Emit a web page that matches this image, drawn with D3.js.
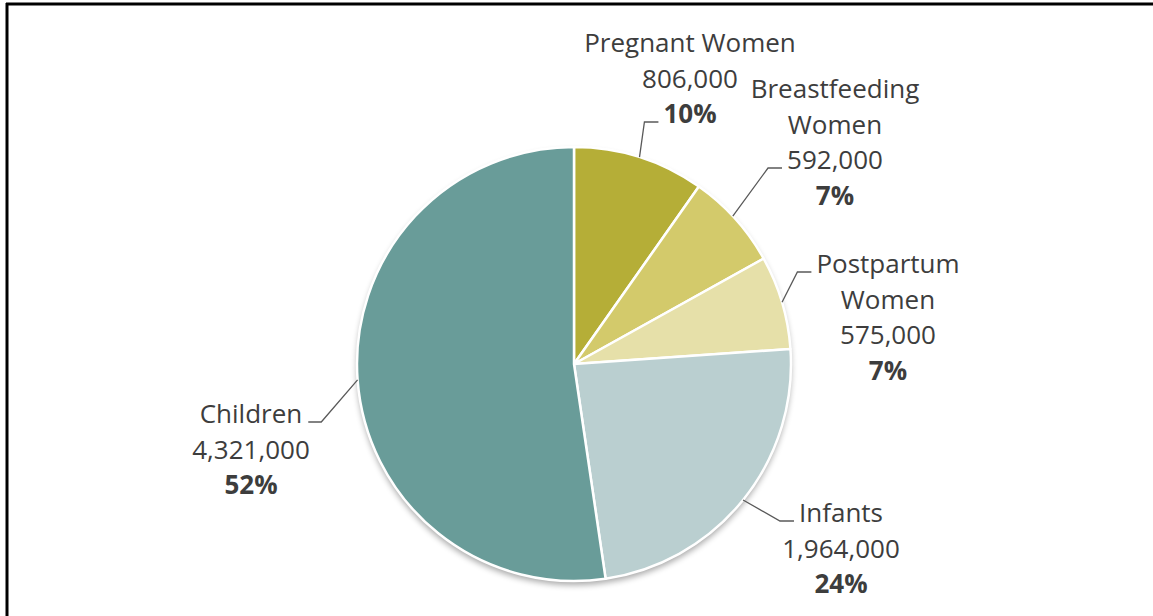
<!DOCTYPE html>
<html>
<head>
<meta charset="utf-8">
<script src="https://cdn.jsdelivr.net/npm/d3@7"></script>
<style>
  html, body { margin: 0; padding: 0; background: #fff; }
  svg { display: block; }
</style>
</head>
<body>
<svg id="chart" width="1153" height="616"></svg>
<script>
// ---- data ----
const categories = ["Pregnant Women", "Breastfeeding Women", "Postpartum Women", "Infants", "Children"];
const labelLines = [["Pregnant Women"], ["Breastfeeding", "Women"], ["Postpartum", "Women"], ["Infants"], ["Children"]];
const values = [806000, 592000, 575000, 1964000, 4321000];
const valueLabels = ["806,000", "592,000", "575,000", "1,964,000", "4,321,000"];
const percentLabels = ["10%", "7%", "7%", "24%", "52%"];
const colors = ["#b5ae37", "#d3ca6b", "#e6e0a9", "#bacfd0", "#699c99"];

// ---- layout (not data) ----
const W = 1153, H = 616;
const cx = 574, cy = 364, R = 217;
const fontSize = 26, lineH = 35.5;
// text block anchor: centre x, baseline of first line; leader: which line, side, attach-angle offset (deg)
const labelLayout = [
  { x: 690, y: 52,  line: 2, side: "left",  angleShift: 0 },
  { x: 835, y: 98,  line: 2, side: "left",  angleShift: -1 },
  { x: 888, y: 273, line: 0, side: "left",  angleShift: 0 },
  { x: 841, y: 522, line: 0, side: "left",  angleShift: 0 },
  { x: 251, y: 423, line: 0, side: "right", angleShift: 0 }
];

const svg = d3.select("#chart");

// frame: top and left borders
svg.append("line").attr("x1", 6).attr("y1", 4).attr("x2", W).attr("y2", 4)
  .attr("stroke", "#000").attr("stroke-width", 3);
svg.append("line").attr("x1", 7).attr("y1", 3).attr("x2", 7).attr("y2", H)
  .attr("stroke", "#000").attr("stroke-width", 3);

// shadow filter
const defs = svg.append("defs");
const f = defs.append("filter").attr("id", "shadow").attr("x", "-20%").attr("y", "-20%").attr("width", "140%").attr("height", "140%");
f.append("feGaussianBlur").attr("in", "SourceAlpha").attr("stdDeviation", 3).attr("result", "b");
f.append("feOffset").attr("in", "b").attr("dx", 0).attr("dy", 4).attr("result", "o");
f.append("feComponentTransfer").attr("in", "o").attr("result", "s")
  .append("feFuncA").attr("type", "linear").attr("slope", 0.35);
const fm = f.append("feMerge");
fm.append("feMergeNode").attr("in", "s");
fm.append("feMergeNode").attr("in", "SourceGraphic");

const pie = d3.pie().sort(null).value(d => d).startAngle(0).endAngle(2 * Math.PI);
const arcs = pie(values);
const arc = d3.arc().innerRadius(0).outerRadius(R);

const g = svg.append("g").attr("transform", `translate(${cx},${cy})`);
g.append("circle").attr("r", R).attr("fill", "#fff").attr("filter", "url(#shadow)");
g.selectAll("path.slice").data(arcs).join("path")
  .attr("class", "slice")
  .attr("d", arc)
  .attr("fill", (d, i) => colors[i])
  .attr("stroke", "#fff")
  .attr("stroke-width", 2.5)
  .attr("stroke-linejoin", "round");

// labels
const textColor = "#3d3d3d";
const lg = svg.append("g").attr("font-family", "'Open Sans', sans-serif").attr("font-size", fontSize).attr("fill", textColor);

arcs.forEach((a, i) => {
  const L = labelLayout[i];
  const lines = labelLines[i].concat([valueLabels[i]]);
  const t = lg.append("text").attr("text-anchor", "middle");
  const tspans = [];
  lines.forEach((s, k) => {
    tspans.push(t.append("tspan").attr("x", L.x).attr("y", L.y + k * lineH).text(s));
  });
  const pct = lg.append("text").attr("text-anchor", "middle").attr("font-weight", "bold")
    .attr("x", L.x).attr("y", L.y + lines.length * lineH).text(percentLabels[i]);
  tspans.push(pct);

  // leader line
  const target = tspans[L.line];
  const w = target.node().getComputedTextLength();
  const by = L.y + L.line * lineH - 1;
  const edgeX = L.side === "left" ? L.x - w / 2 - 5 : L.x + w / 2 + 6;
  const elbowX = L.side === "left" ? edgeX - 14 : edgeX + 13;
  const mid = (a.startAngle + a.endAngle) / 2 + L.angleShift * Math.PI / 180;
  const px = cx + R * Math.sin(mid), py = cy - R * Math.cos(mid);
  svg.append("path")
    .attr("d", d3.line()([[px, py], [elbowX, by], [edgeX, by]]))
    .attr("fill", "none").attr("stroke", "#595959").attr("stroke-width", 1.3);
});
</script>
</body>
</html>
